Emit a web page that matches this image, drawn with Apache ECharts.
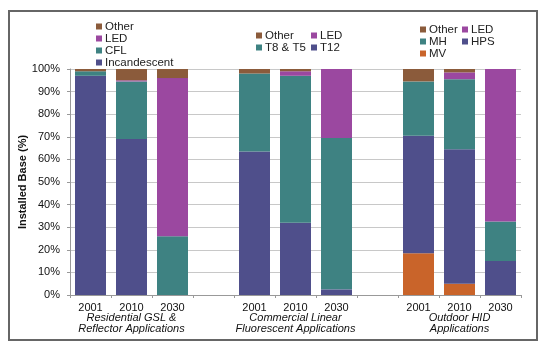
<!DOCTYPE html>
<html>
<head>
<meta charset="utf-8">
<script src="https://cdn.jsdelivr.net/npm/echarts@6/dist/echarts.min.js"></script>
<style>
html,body{margin:0;padding:0;background:#fff;}
#c{width:555px;height:353px;}
</style>
</head>
<body>
<div id="c"></div>
<script>
const categories = ['2001','2010','2030','','2001','2010','2030','','2001','2010','2030'];
const groupLabels = ['', 'Residential GSL &\nReflector Applications', '', '', '', 'Commercial Linear\nFluorescent Applications', '', '', '', 'Outdoor HID\nApplications', ''];
const yAxisName = 'Installed Base (%)';

const mv           = [null, null, null, null, null, null, null, null, 18.5, 5, null];
const incandescent = [97, 69, null, null, null, null, null, null, null, null, null];
const t12          = [null, null, null, null, 63.5, 32, 2.5, null, null, null, null];
const hps          = [null, null, null, null, null, null, null, null, 52, 59.5, 15];
const cfl          = [2, 25.5, 26, null, null, null, null, null, null, null, null];
const t8t5         = [null, null, null, null, 34.5, 65, 67, null, null, null, null];
const mh           = [null, null, null, null, null, null, null, null, 24, 31, 17.5];
const led          = [0, 0.5, 70, null, 0, 2, 30.5, null, 0, 3, 67.5];
const other        = [1, 5, 4, null, 2, 1, 0, null, 5.5, 1.5, 0];

const NAVY = '#4F4F8B', TEAL = '#3E8282', PURPLE = '#9B48A0', BROWN = '#8B5B3B', ORANGE = '#C9642A';
const FONT = "'Liberation Sans', Arial, sans-serif";

function bar(name, data, color) {
  return { name: name, type: 'bar', stack: 'total', data: data, barWidth: 31,
    itemStyle: { color: color }, emphasis: { disabled: true } };
}

function legend(left, top, names, gap) {
  return {
    orient: 'vertical', left: left, top: top, padding: 0, itemGap: 0,
    icon: 'rect', itemWidth: 6, itemHeight: 6, data: names, selectedMode: false,
    textStyle: { fontFamily: FONT, fontSize: 11.5, color: '#222', lineHeight: gap, padding: [0, 0, 0, -2] }
  };
}

const chart = echarts.init(document.getElementById('c'), null, { renderer: 'canvas' });
chart.setOption({
  animation: false,
  backgroundColor: '#fff',
  textStyle: { fontFamily: FONT },
  grid: { left: 70, right: 34, top: 69, bottom: 58 },
  legend: [
    legend(96, 20.5, ['Other', 'LED', 'CFL', 'Incandescent'], 10.3),
    legend(256, 29.5, ['Other', 'T8 & T5'], 11.5),
    legend(420, 23.5, ['Other', 'MH', 'MV'], 11.4),
    legend(311, 29.5, ['LED', 'T12'], 11.5),
    legend(462, 23.5, ['LED', 'HPS'], 11.4)
  ],
  graphic: [{
    type: 'rect', shape: { x: 9, y: 11, width: 528, height: 329 },
    style: { fill: 'none', stroke: '#666', lineWidth: 2 }, silent: true
  }],
  xAxis: [{
    type: 'category', data: categories, position: 'bottom',
    axisLine: { lineStyle: { color: '#999' } },
    axisTick: { show: true, length: 3, lineStyle: { color: '#999' } },
    axisLabel: { interval: 0, margin: 7, fontSize: 11, color: '#111', fontFamily: FONT }
  }, {
    type: 'category', data: groupLabels, position: 'bottom',
    axisLine: { show: false }, axisTick: { show: false },
    axisLabel: { interval: 0, margin: 17, fontSize: 11, lineHeight: 11.5, fontStyle: 'italic', color: '#111', fontFamily: FONT }
  }],
  yAxis: {
    type: 'value', min: 0, max: 100, interval: 10,
    name: yAxisName, nameLocation: 'middle', nameGap: 42, nameMoveOverlap: false,
    nameTextStyle: { fontFamily: FONT, fontSize: 11, fontWeight: 'bold', color: '#111' },
    axisLine: { show: true, lineStyle: { color: '#999' } },
    axisTick: { show: true, length: 3, lineStyle: { color: '#999' } },
    axisLabel: { formatter: '{value}%', margin: 10, fontSize: 11, color: '#111', fontFamily: FONT },
    splitLine: { lineStyle: { color: '#C8C8C8' } }
  },
  series: [
    bar('MV', mv, ORANGE),
    bar('Incandescent', incandescent, NAVY),
    bar('T12', t12, NAVY),
    bar('HPS', hps, NAVY),
    bar('CFL', cfl, TEAL),
    bar('T8 & T5', t8t5, TEAL),
    bar('MH', mh, TEAL),
    bar('LED', led, PURPLE),
    bar('Other', other, BROWN)
  ]
});
</script>
</body>
</html>
